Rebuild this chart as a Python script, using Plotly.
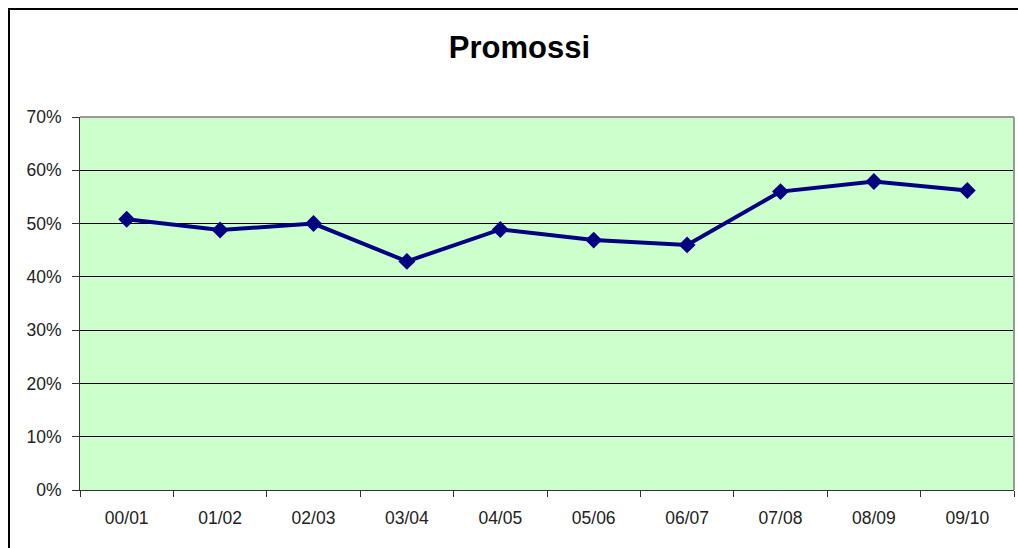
import plotly.graph_objects as go

categories = ["00/01", "01/02", "02/03", "03/04", "04/05", "05/06", "06/07", "07/08", "08/09", "09/10"]
promossi = [0.508, 0.488, 0.500, 0.429, 0.489, 0.469, 0.460, 0.560, 0.579, 0.562]
y_ticks = [0, 0.1, 0.2, 0.3, 0.4, 0.5, 0.6, 0.7]
y_labels = ["0%", "10%", "20%", "30%", "40%", "50%", "60%", "70%"]

W, H = 1018, 548
L, R, T, B = 80, 1018 - 1014, 117, 548 - 490
pw, ph = W - L - R, H - T - B

def px_x(px):
    return (px - L) / pw

def px_y(py):
    return (H - B - py) / ph

fig = go.Figure()
fig.add_trace(go.Scatter(
    x=categories, y=promossi, mode="lines+markers",
    line=dict(color="#000080", width=4),
    marker=dict(symbol="diamond", size=13, color="#000080"),
    showlegend=False, cliponaxis=False,
))

fig.update_layout(
    width=W, height=H,
    margin=dict(l=L, r=R, t=T, b=B),
    paper_bgcolor="white", plot_bgcolor="#CCFFCC",
    font=dict(family="Liberation Sans, Arial, sans-serif", size=17.5, color="#222222"),
    title=dict(text="<b>Promossi</b>", x=519.5 / W, xanchor="center",
               y=1 - 47 / H, yanchor="middle",
               yref="container", font=dict(size=31, color="black")),
    xaxis=dict(type="category", range=[-0.5, 9.5], showgrid=False,
               tickson="boundaries", ticks="outside", ticklen=6, tickcolor="#333333",
               showline=True, linecolor="#333333", linewidth=1, zeroline=False,
               ticklabelstandoff=12, tickfont=dict(size=17.5)),
    yaxis=dict(range=[0, 0.7], tickvals=y_ticks, ticktext=y_labels,
               ticks="outside", ticklen=7, tickcolor="#333333",
               showgrid=True, gridcolor="black", gridwidth=1,
               showline=True, linecolor="#333333", linewidth=1, zeroline=False,
               ticklabelstandoff=7, tickfont=dict(size=17.5)),
    shapes=[
        dict(type="line", xref="paper", yref="paper", x0=1, x1=1, y0=0, y1=1,
             line=dict(color="#999999", width=2)),
        dict(type="line", xref="paper", yref="paper", x0=0, x1=1, y0=1, y1=1,
             line=dict(color="#999999", width=2)),
        dict(type="line", xref="paper", yref="paper", x0=px_x(9), x1=px_x(9),
             y0=px_y(8), y1=px_y(560), line=dict(color="black", width=2)),
        dict(type="line", xref="paper", yref="paper", x0=px_x(8), x1=px_x(1030),
             y0=px_y(9), y1=px_y(9), line=dict(color="black", width=2)),
    ],
)

fig.write_html(
    "out.html",
    config={"displayModeBar": False},
    post_script="document.body.style.margin='0';document.body.style.overflow='hidden';",
)
